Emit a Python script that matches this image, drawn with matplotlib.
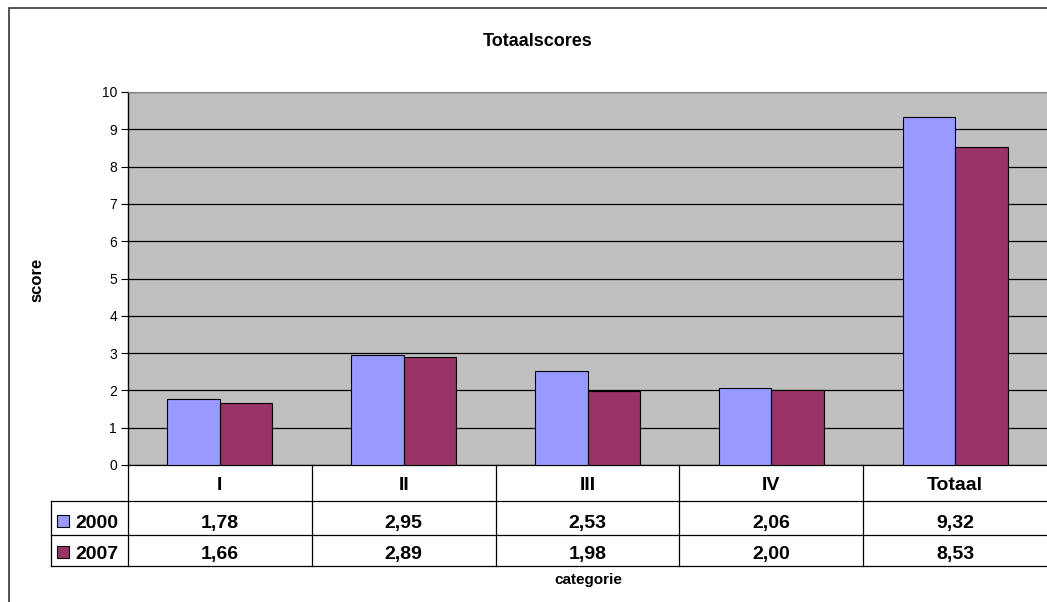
import matplotlib.pyplot as plt
import matplotlib.transforms as mtransforms
from matplotlib.patches import Rectangle
import numpy as np

plt.rcParams['font.family'] = ['Liberation Sans', 'DejaVu Sans']

categories = ['I', 'II', 'III', 'IV', 'Totaal']
series_names = ['2000', '2007']
scores_2000 = [1.78, 2.95, 2.53, 2.06, 9.32]
scores_2007 = [1.66, 2.89, 1.98, 2.00, 8.53]
colors = ['#9999FF', '#993366']

W, H = 1047, 602
fig = plt.figure(figsize=(W / 100, H / 100), dpi=100)

# chart area border (runs off the right/bottom edge like the original)
fig.patches.append(Rectangle((9 / W, -0.05), 1.1, 1 - 8 / H + 0.05,
                             transform=fig.transFigure, fill=False,
                             edgecolor='#333333', linewidth=1.2))

ax = fig.add_axes([128 / W, 1 - 465 / H, (W - 128) / W, 373 / H])
ax.set_facecolor('#C0C0C0')

x = np.arange(len(categories))
bw = 1 / 3.5
ax.bar(x - bw / 2, scores_2000, bw, color=colors[0], edgecolor='black', linewidth=0.8, zorder=3)
ax.bar(x + bw / 2, scores_2007, bw, color=colors[1], edgecolor='black', linewidth=0.8, zorder=3)

ax.set_xlim(-0.5, len(categories) - 0.5)
ax.set_ylim(0, 10)
ax.set_yticks(range(0, 11))
ax.yaxis.grid(True, color='black', linewidth=0.9, zorder=1)
ax.set_axisbelow(True)
ax.tick_params(axis='y', direction='out', length=5, width=0.8, labelsize=10, pad=3)
ax.tick_params(axis='x', bottom=False, labelbottom=False)
for s in ['right', 'bottom']:
    ax.spines[s].set_visible(False)
ax.spines['top'].set_color('#808080')
ax.spines['left'].set_linewidth(1.0)

# data table under the plot
tr = mtransforms.blended_transform_factory(ax.transData, ax.transAxes)
px = 1 / 373
cw = 183.8
y_head = -36 * px
y_r1 = -70 * px
y_r2 = -101 * px
x_left = -0.5 - 77 / cw
x_right = len(categories) - 0.5
lkw = dict(color='black', linewidth=0.9, transform=tr, clip_on=False)

ax.plot([-0.5, x_right], [0, 0], **lkw)
for yy in [y_head, y_r1, y_r2]:
    ax.plot([x_left, x_right], [yy, yy], **lkw)
ax.plot([x_left, x_left], [y_head, y_r2], **lkw)
for i in range(len(categories)):
    ax.plot([i - 0.5, i - 0.5], [0, y_r2], **lkw)

for i, c in enumerate(categories):
    ax.text(i, -25 * px, c, transform=tr, ha='center', va='baseline',
            fontsize=14, fontweight='bold')

rows = [scores_2000, scores_2007]
row_base = [-63 * px, -94 * px]
for name, vals, col, yb in zip(series_names, rows, colors, row_base):
    ax.add_patch(Rectangle((x_left + 6 / cw, yb + 1 * px), 12 / cw, 12 * px,
                           transform=tr, facecolor=col, edgecolor='black',
                           linewidth=0.8, clip_on=False))
    ax.text(x_left + 24 / cw, yb, name, transform=tr, ha='left', va='baseline',
            fontsize=14, fontweight='bold')
    for i, v in enumerate(vals):
        ax.text(i, yb, f'{v:.2f}'.replace('.', ','), transform=tr, ha='center',
                va='baseline', fontsize=14, fontweight='bold')

fig.text(538 / W, 1 - 42 / H, 'Totaalscores', ha='center', va='center',
         fontsize=13, fontweight='bold')
fig.text(37 / W, 1 - 280 / H, 'score', ha='center', va='center', rotation=90,
         fontsize=12, fontweight='bold')
fig.text(588 / W, 1 - 580 / H, 'categorie', ha='center', va='center',
         fontsize=11, fontweight='bold')

fig.savefig('out.png', dpi=100)
